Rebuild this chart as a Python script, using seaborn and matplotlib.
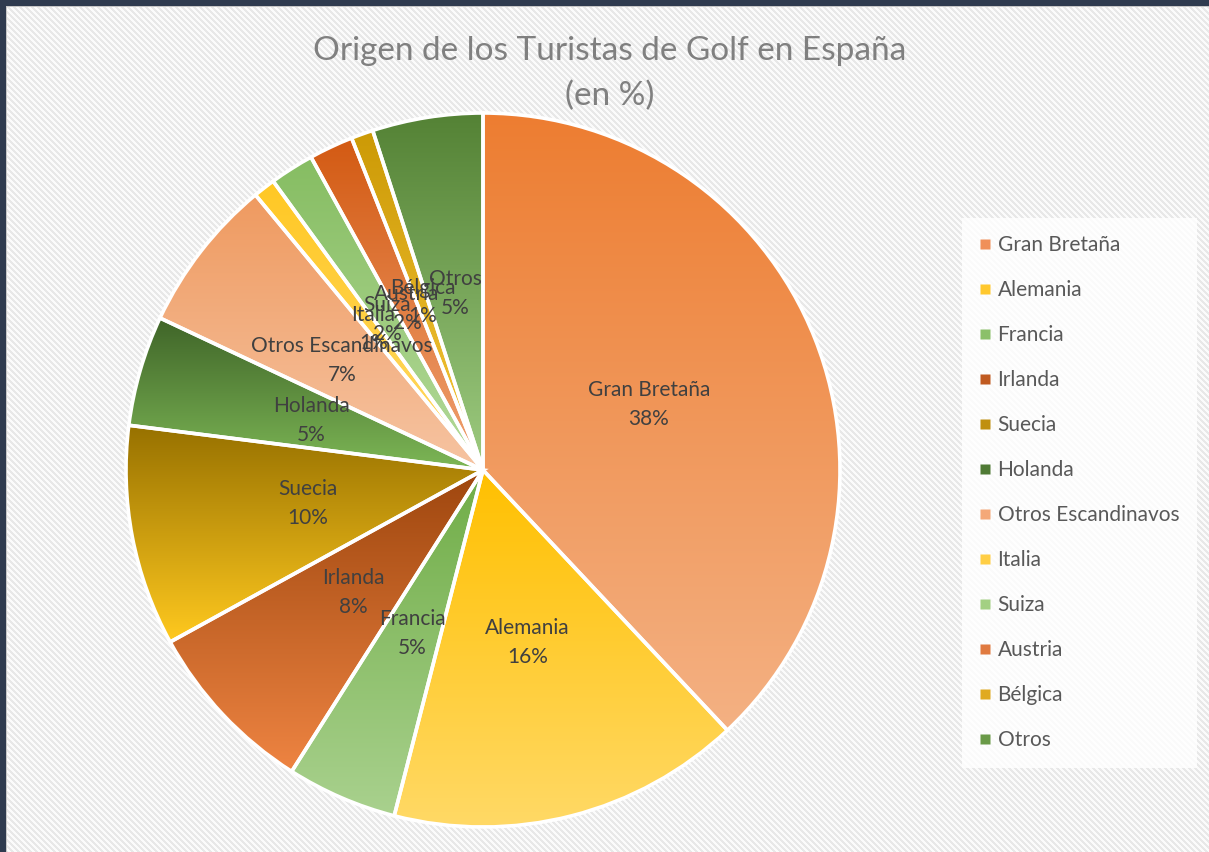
import numpy as np
import matplotlib.pyplot as plt
import seaborn as sns
from matplotlib.lines import Line2D
from matplotlib.colors import LinearSegmentedColormap

sns.set_theme(style="white")
plt.rcParams['font.family'] = ['Lato', 'DejaVu Sans']

# data
countries = ["Gran Bretaña", "Alemania", "Francia", "Irlanda", "Suecia", "Holanda",
             "Otros Escandinavos", "Italia", "Suiza", "Austria", "Bélgica", "Otros"]
shares = [38, 16, 5, 8, 10, 5, 7, 1, 2, 2, 1, 5]

# gradient (top, bottom) colour for every slice
top_colors = ["#ED7D31", "#FFC000", "#70AD47", "#9E460E", "#977100", "#3F6428",
              "#EF9A60", "#FFC824", "#86BD62", "#D35A13", "#CC9A06", "#548235"]
bottom_colors = ["#F4B183", "#FFD966", "#A9D18E", "#EE8442", "#FFC91F", "#7DB756",
                 "#F6C4A2", "#FFD966", "#B4DA9A", "#F0A272", "#F7C73C", "#9DCB80"]
legend_colors = ["#F0905A", "#FFC82E", "#8BC069", "#C05A20", "#C09010", "#4F7A35",
                 "#F4A878", "#FFCE45", "#A3D083", "#E07A40", "#E0AA20", "#6A9A48"]

W, H = 1209, 852
fig = plt.figure(figsize=(W / 100, H / 100), dpi=100)

# striped background with dark frame on top / left
yy, xx = np.mgrid[0:H, 0:W]
bg = np.where(((xx - yy) % 6) < 3, 0.91, 0.985)
bg = np.stack([bg, bg, bg], axis=-1)
frame = np.array([0x2F, 0x3B, 0x4F]) / 255
bg[:6, :] = frame
bg[:, :6] = frame
bg[6, 6:] = 0.78
bg[6:, 6] = 0.78
bg_ax = fig.add_axes([0, 0, 1, 1])
bg_ax.imshow(bg, aspect="auto", interpolation="nearest")
bg_ax.axis("off")

# pie
cx, cy, r = 483, 470, 357
ax = fig.add_axes([(cx - r) / W, (H - cy - r) / H, 2 * r / W, 2 * r / H])
wedges, _ = ax.pie(shares, startangle=90, counterclock=False, radius=1,
                   colors=top_colors,
                   wedgeprops=dict(edgecolor="white", linewidth=2.6))
grad = np.linspace(0, 1, 256).reshape(-1, 1)
for w, c0, c1 in zip(wedges, top_colors, bottom_colors):
    t = np.linspace(np.radians(w.theta1), np.radians(w.theta2), 200)
    ys = np.concatenate([[0], np.sin(t)])
    xs = np.concatenate([[0], np.cos(t)])
    cmap = LinearSegmentedColormap.from_list("g", [c0, c1])
    im = ax.imshow(grad, cmap=cmap, aspect="auto", origin="upper",
                   extent=[xs.min(), xs.max(), ys.min(), ys.max()], zorder=w.get_zorder() + 0.1)
    im.set_clip_path(w)
    w.set_facecolor("none")
    w.set_zorder(w.get_zorder() + 0.2)

for w, name, val in zip(wedges, countries, shares):
    mid = np.radians((w.theta1 + w.theta2) / 2)
    ax.text(0.5 * np.cos(mid), 0.5 * np.sin(mid), f"{name}\n{val}%",
            ha="center", va="center", fontsize=15, color="#404040",
            linespacing=1.55, zorder=10)
ax.set_xlim(-1, 1)
ax.set_ylim(-1, 1)
ax.set_aspect("equal")
ax.axis("off")

fig.text(610 / W, 1 - 74 / H, "Origen de los Turistas de Golf en España\n(en %)",
         ha="center", va="center", fontsize=24, color="#808080",
         linespacing=1.6)

handles = [Line2D([0], [0], marker="s", linestyle="none", markersize=7.5,
                  markerfacecolor=c, markeredgecolor="none") for c in legend_colors]
leg = fig.legend(handles, countries, loc="upper left",
                 bbox_to_anchor=(968 / W, 1 - 224 / H), frameon=True,
                 fontsize=15, labelspacing=1.2, handlelength=0.5,
                 handletextpad=0.37, borderpad=0.55, borderaxespad=0)
leg.get_frame().set_facecolor("white")
leg.get_frame().set_alpha(0.8)
leg.get_frame().set_edgecolor("none")
leg.get_frame().set_boxstyle("square")
for t in leg.get_texts():
    t.set_color("#595959")

fig.savefig("out.png", dpi=100)
